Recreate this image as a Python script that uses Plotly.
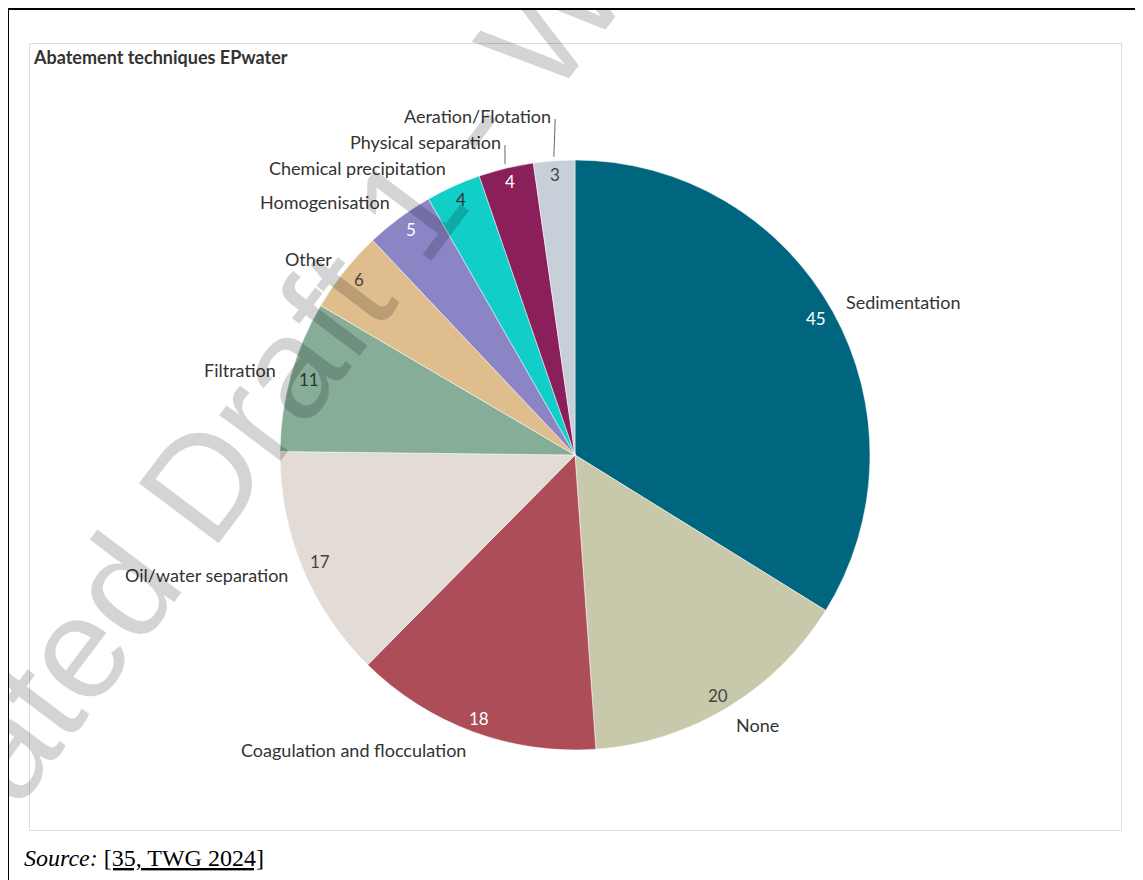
import math
import plotly.graph_objs as go

# slices, clockwise from 12 o'clock
labels = ["Sedimentation", "None", "Coagulation and flocculation", "Oil/water separation",
          "Filtration", "Other", "Homogenisation", "Chemical precipitation",
          "Physical separation", "Aeration/Flotation"]
values = [45, 20, 18, 17, 11, 6, 5, 4, 4, 3]
colors = ["#00657f", "#c8c8aa", "#ad4d58", "#e2dbd6", "#85ad98",
          "#e0bd8c", "#8b85c6", "#12cec8", "#8a1f5b", "#c7cfd9"]
value_colors = ["#ffffff", "#444444", "#ffffff", "#444444", "#333333",
                "#444444", "#ffffff", "#333333", "#ffffff", "#444444"]

W, H = 1143, 880
OFF = 8  # body margin of the page
cx, cy, R = 575, 455, 295


def px(x):
    return (x - OFF) / W


def py(y):
    return 1 - (y - OFF) / H


pie = go.Pie(
    labels=labels,
    values=values,
    sort=False,
    direction='clockwise',
    rotation=0,
    marker=dict(colors=colors, line=dict(color='white', width=0.5)),
    textinfo='none',
    hoverinfo='label+value',
    showlegend=False,
    domain=dict(x=[px(cx - R), px(cx + R)], y=[py(cy + R), py(cy - R)])
)

total = float(sum(values))
mids = []
acc = 0
for v in values:
    mids.append((acc + v / 2.0) / total * 2 * math.pi)
    acc += v

font_main = "Lato, 'Open Sans', sans-serif"
annotations = []
shapes = []

# values just inside the rim
for i, a in enumerate(mids):
    annotations.append(dict(
        x=px(cx + (R - 19) * math.sin(a)), y=py(cy - (R - 14) * math.cos(a)),
        xref='paper', yref='paper', text=str(values[i]), showarrow=False,
        font=dict(family=font_main, size=17, color=value_colors[i]),
        xanchor='center', yanchor='middle'))

# category labels outside, crowded ones pushed upwards
pos = []
for a in mids:
    pos.append([cx + (R + 13) * math.sin(a), cy - (R + 20) * math.cos(a)])
natural = [p[1] for p in pos]
left = sorted([i for i, a in enumerate(mids) if math.sin(a) < 0], key=lambda i: -pos[i][1])
prev = None
for i in left:
    if prev is not None and pos[i][1] > prev - 26:
        pos[i][1] = prev - 26
    prev = pos[i][1]

for i, a in enumerate(mids):
    right = math.sin(a) >= 0
    annotations.append(dict(
        x=px(pos[i][0]), y=py(pos[i][1]),
        xref='paper', yref='paper', text=labels[i], showarrow=False,
        font=dict(family=font_main, size=18, color='#333333'),
        xanchor='left' if right else 'right', yanchor='middle'))
    if natural[i] - pos[i][1] > 4:
        shapes.append(dict(
            type='line', xref='paper', yref='paper',
            x0=px(pos[i][0] + 2), y0=py(pos[i][1] + 3),
            x1=px(cx + (R + 4) * math.sin(a)), y1=py(cy - (R + 4) * math.cos(a)),
            line=dict(color='#666666', width=1)))

# title, source, watermark
annotations.append(dict(
    x=px(31), y=py(57), xref='paper', yref='paper', showarrow=False,
    text='<b>Abatement techniques EPwater</b>',
    font=dict(family=font_main, size=18, color='#333333'),
    xanchor='left', yanchor='middle'))
annotations.append(dict(
    x=px(22), y=py(858), xref='paper', yref='paper', showarrow=False,
    text="<i>Source:</i> <span style='text-decoration:underline;text-decoration-skip-ink:none'>[35, TWG 2024]</span>",
    font=dict(family="'Liberation Serif', 'Times New Roman', serif", size=24, color='black'),
    xanchor='left', yanchor='middle'))
annotations.append(dict(
    x=px(285), y=py(372), xref='paper', yref='paper', showarrow=False,
    text='ated Draft 1 - W', textangle=-53,
    font=dict(family="'Liberation Sans', Arial, sans-serif", size=145, color='rgba(0,0,0,0.17)'),
    xanchor='center', yanchor='middle'))

# outer page frame and chart card
shapes.append(dict(type='rect', xref='paper', yref='paper',
                   x0=px(8), y0=py(9), x1=px(1141), y1=py(900),
                   line=dict(color='black', width=2)))
shapes.append(dict(type='rect', xref='paper', yref='paper',
                   x0=px(29.5), y0=py(43.5), x1=px(1121.5), y1=py(830.5),
                   line=dict(color='#dcdcdc', width=1)))

layout = go.Layout(
    width=W, height=H,
    margin=go.layout.Margin(l=0, r=0, b=0, t=0, pad=0),
    paper_bgcolor='white',
    plot_bgcolor='white',
    showlegend=False,
    annotations=annotations,
    shapes=shapes
)

fig = go.Figure(data=[pie], layout=layout)
fig.write_html("out.html")
